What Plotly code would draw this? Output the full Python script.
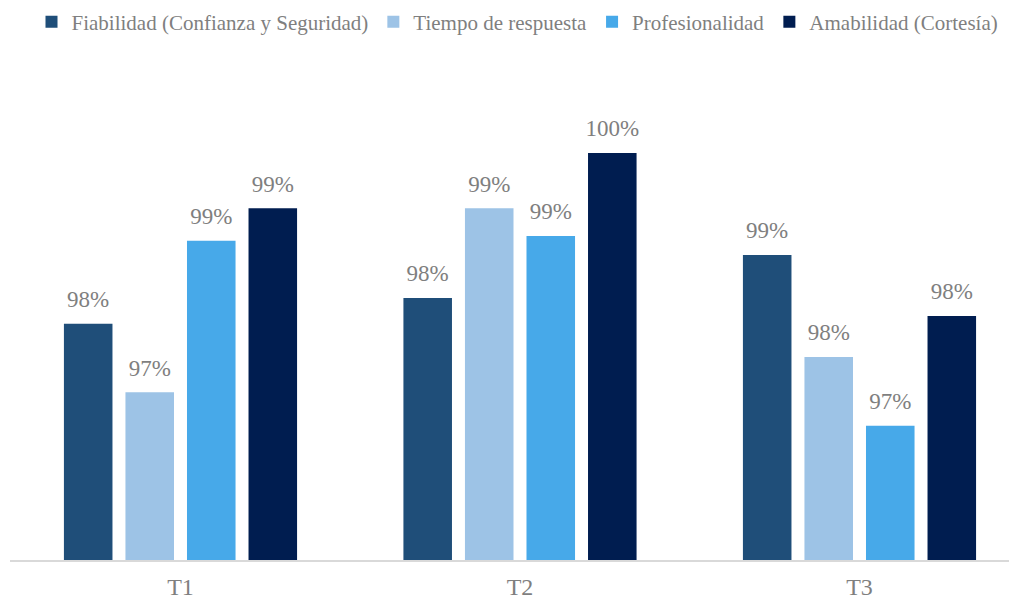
import plotly.graph_objects as go

periods = ["T1", "T2", "T3"]
series_names = [
    "Fiabilidad (Confianza y Seguridad)",
    "Tiempo de respuesta",
    "Profesionalidad",
    "Amabilidad (Cortesía)",
]
fiabilidad = [98.03, 98.30, 98.75]
tiempo = [97.31, 99.24, 97.68]
profesionalidad = [98.90, 98.95, 96.96]
amabilidad = [99.24, 99.82, 98.11]

colors = ["#1F4E79", "#9DC3E6", "#47A9E9", "#001D50"]
serif = "Liberation Serif, Times New Roman, serif"
gap = 0.275

fig = go.Figure()
for name, vals, col in zip(series_names, [fiabilidad, tiempo, profesionalidad, amabilidad], colors):
    fig.add_trace(go.Bar(
        x=periods, y=vals, name=name,
        marker=dict(color=col, line=dict(width=0)),
        hoverinfo="skip",
    ))
# value labels, grouped the same way as the bars, lifted a little above the bar tops
for name, vals in zip(series_names, [fiabilidad, tiempo, profesionalidad, amabilidad]):
    fig.add_trace(go.Scatter(
        x=periods, y=vals, mode="markers+text", showlegend=False,
        marker=dict(size=16, opacity=0),
        text=[f"{v:.0f}%" for v in vals], textposition="top center",
        textfont=dict(family=serif, size=23, color="#7F7F7F"),
        cliponaxis=False, hoverinfo="skip",
    ))

fig.update_layout(
    width=1017, height=599,
    paper_bgcolor="white", plot_bgcolor="white",
    margin=dict(l=2, r=0, t=52, b=47),
    barmode="group", bargap=gap, bargroupgap=0.211,
    scattermode="group", scattergap=gap,
    font=dict(family=serif, color="#7F7F7F"),
    legend=dict(
        orientation="h", x=0.5, xanchor="center",
        y=0.9766, yref="container", yanchor="middle",
        font=dict(family=serif, size=21, color="#7F7F7F"), traceorder="normal",
    ),
    xaxis=dict(
        range=[-0.5022, 2.4875], showline=True, linecolor="#D9D9D9", linewidth=2,
        ticks="", tickfont=dict(family=serif, size=24, color="#7F7F7F"),
        ticklabelstandoff=4,
    ),
    yaxis=dict(range=[95.55, 100.797], visible=False),
)

fig.write_html("out.html")
